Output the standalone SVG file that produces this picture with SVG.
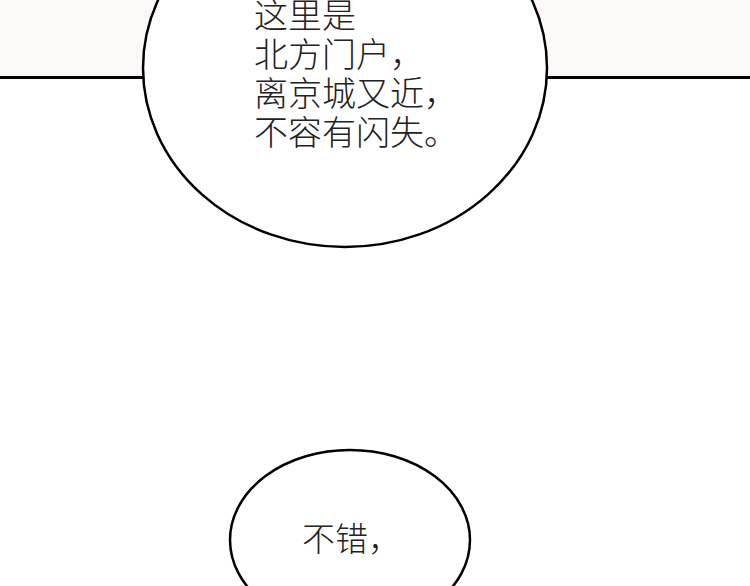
<svg xmlns="http://www.w3.org/2000/svg" width="750" height="586" viewBox="0 0 750 586">
<style>
.b{fill:#fff;stroke:#000;stroke-width:2.5}
.t{font-family:"Noto Sans CJK SC",sans-serif;font-weight:300;font-size:34px;fill:#222}
</style>
<rect width="750" height="586" fill="#fff"/>
<rect width="750" height="77" fill="#fcf8f7"/>
<line x1="0" y1="77.5" x2="750" y2="77.5" stroke="#000" stroke-width="3"/>
<g id="bubble1">
<ellipse class="b" cx="345" cy="68" rx="202" ry="179"/>
<text class="t" x="254" y="28">这里是</text>
<text class="t" x="254" y="67">北方门户，</text>
<text class="t" x="254" y="106">离京城又近，</text>
<text class="t" x="254" y="145">不容有闪失。</text>
</g>
<g id="bubble2">
<ellipse class="b" cx="350" cy="540" rx="120" ry="90"/>
<text class="t" x="302" y="551" style="font-size:33px">不错，</text>
</g>
</svg>
